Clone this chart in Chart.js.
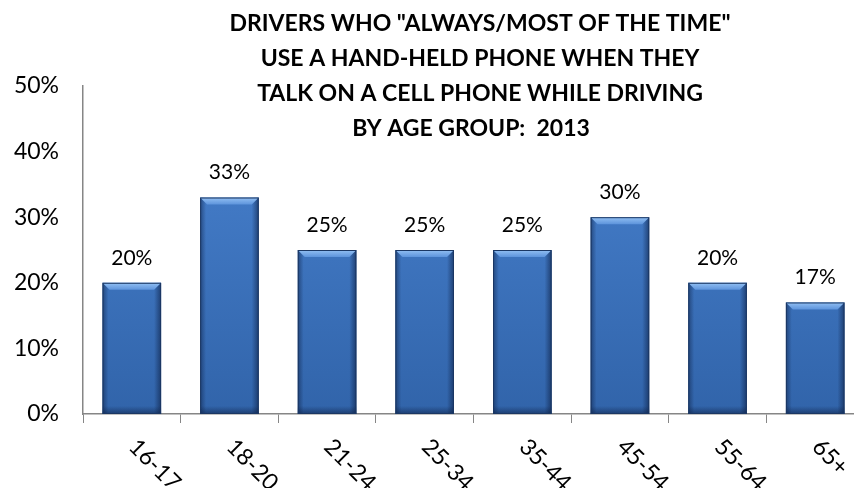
<!DOCTYPE html>
<html>
<head>
<script src="https://cdn.jsdelivr.net/npm/chart.js@4"></script>
<style>
  body { margin: 0; overflow: hidden; background: #fff; }
  #wrap { width: 866px; height: 488px; }
</style>
</head>
<body>
<div id="wrap"><canvas id="chart"></canvas></div>
<script>
// data
const ageGroups = ['16-17', '18-20', '21-24', '25-34', '35-44', '45-54', '55-64', '65+'];
const handHeldPct = [20, 33, 25, 25, 25, 30, 20, 17];
const titleLines = [
  'DRIVERS WHO "ALWAYS/MOST OF THE TIME"',
  'USE A HAND-HELD PHONE WHEN THEY',
  'TALK ON A CELL PHONE WHILE DRIVING',
  'BY AGE GROUP:  2013'
];

const FONT = 'Lato, "Open Sans", sans-serif';
const AXIS = '#868686';

// bevelled look of the excel bars
const bevel = {
  id: 'bevel',
  afterDatasetsDraw(chart) {
    const ctx = chart.ctx;
    chart.getDatasetMeta(0).data.forEach(bar => {
      const p = bar.getProps(['x', 'y', 'base', 'width'], true);
      const l = p.x - p.width / 2, r = p.x + p.width / 2, h = p.base - p.y;
      ctx.save();
      let g = ctx.createLinearGradient(l, 0, r, 0);
      g.addColorStop(0, 'rgba(12,30,66,0.5)');
      g.addColorStop(0.1, 'rgba(12,30,66,0)');
      g.addColorStop(0.88, 'rgba(12,30,66,0)');
      g.addColorStop(1, 'rgba(12,30,66,0.6)');
      ctx.fillStyle = g;
      ctx.fillRect(l, p.y, p.width, h);
      g = ctx.createLinearGradient(0, p.base - 8, 0, p.base);
      g.addColorStop(0, 'rgba(12,30,66,0)');
      g.addColorStop(1, 'rgba(12,30,66,0.55)');
      ctx.fillStyle = g;
      ctx.fillRect(l, p.base - 8, p.width, 8);
      const b = Math.min(7, h / 2);
      g = ctx.createLinearGradient(0, p.y, 0, p.y + b);
      g.addColorStop(0, '#93c0f3');
      g.addColorStop(1, '#5d94dc');
      ctx.fillStyle = g;
      ctx.beginPath();
      ctx.moveTo(l, p.y);
      ctx.lineTo(r, p.y);
      ctx.lineTo(r - b, p.y + b);
      ctx.lineTo(l + b, p.y + b);
      ctx.closePath();
      ctx.fill();
      ctx.strokeStyle = '#1b3763';
      ctx.lineWidth = 1;
      ctx.strokeRect(l + 0.5, p.y + 0.5, p.width - 1, h - 1);
      ctx.restore();
    });
  }
};

// value labels, rotated category labels and the title
const texts = {
  id: 'texts',
  afterDraw(chart) {
    const ctx = chart.ctx;
    const xs = chart.scales.x;
    ctx.save();
    ctx.fillStyle = '#000';
    ctx.textBaseline = 'middle';

    ctx.font = '21px ' + FONT;
    ctx.textAlign = 'center';
    chart.getDatasetMeta(0).data.forEach((bar, i) => {
      ctx.fillText(handHeldPct[i] + '%', bar.x, bar.y - 25);
    });

    ctx.font = '23px ' + FONT;
    ctx.textAlign = 'left';
    ageGroups.forEach((lab, i) => {
      ctx.save();
      ctx.translate(xs.getPixelForValue(i) + 1, xs.top + 29);
      ctx.rotate(Math.PI / 4);
      ctx.fillText(lab, 0, 0);
      ctx.restore();
    });

    ctx.font = 'bold 23px ' + FONT;
    ctx.textAlign = 'center';
    titleLines.forEach((t, i) => {
      const cx = i === titleLines.length - 1 ? 471 : 480;
      ctx.fillText(t, cx, 24 + i * 34.8);
    });
    ctx.restore();
  }
};

new Chart(document.getElementById('chart'), {
  type: 'bar',
  data: {
    labels: ageGroups,
    datasets: [{
      data: handHeldPct,
      backgroundColor: c => {
        const a = c.chart.chartArea;
        if (!a) return '#3a70ba';
        const g = c.chart.ctx.createLinearGradient(0, a.top, 0, a.bottom);
        g.addColorStop(0, '#4a84d2');
        g.addColorStop(1, '#3164aa');
        return g;
      },
      categoryPercentage: 1,
      barPercentage: 0.6
    }]
  },
  options: {
    responsive: true,
    maintainAspectRatio: false,
    animation: false,
    layout: { padding: { top: 86, right: 2, left: 0, bottom: 0 } },
    plugins: { legend: { display: false }, tooltip: { enabled: false } },
    scales: {
      x: {
        grid: { display: true, drawOnChartArea: false, drawTicks: true, tickLength: 9, color: AXIS },
        border: { display: true, color: AXIS, width: 1.5 },
        ticks: { display: false },
        afterFit: s => { s.height = 74; }
      },
      y: {
        min: 0,
        max: 50,
        grid: { display: false, drawTicks: false },
        border: { display: true, color: AXIS, width: 1.5 },
        ticks: {
          stepSize: 10,
          padding: 24,
          color: '#000',
          font: { family: FONT, size: 23 },
          callback: v => v + '%'
        },
        afterFit: s => { s.width = 83; }
      }
    }
  },
  plugins: [bevel, texts]
});
</script>
</body>
</html>
